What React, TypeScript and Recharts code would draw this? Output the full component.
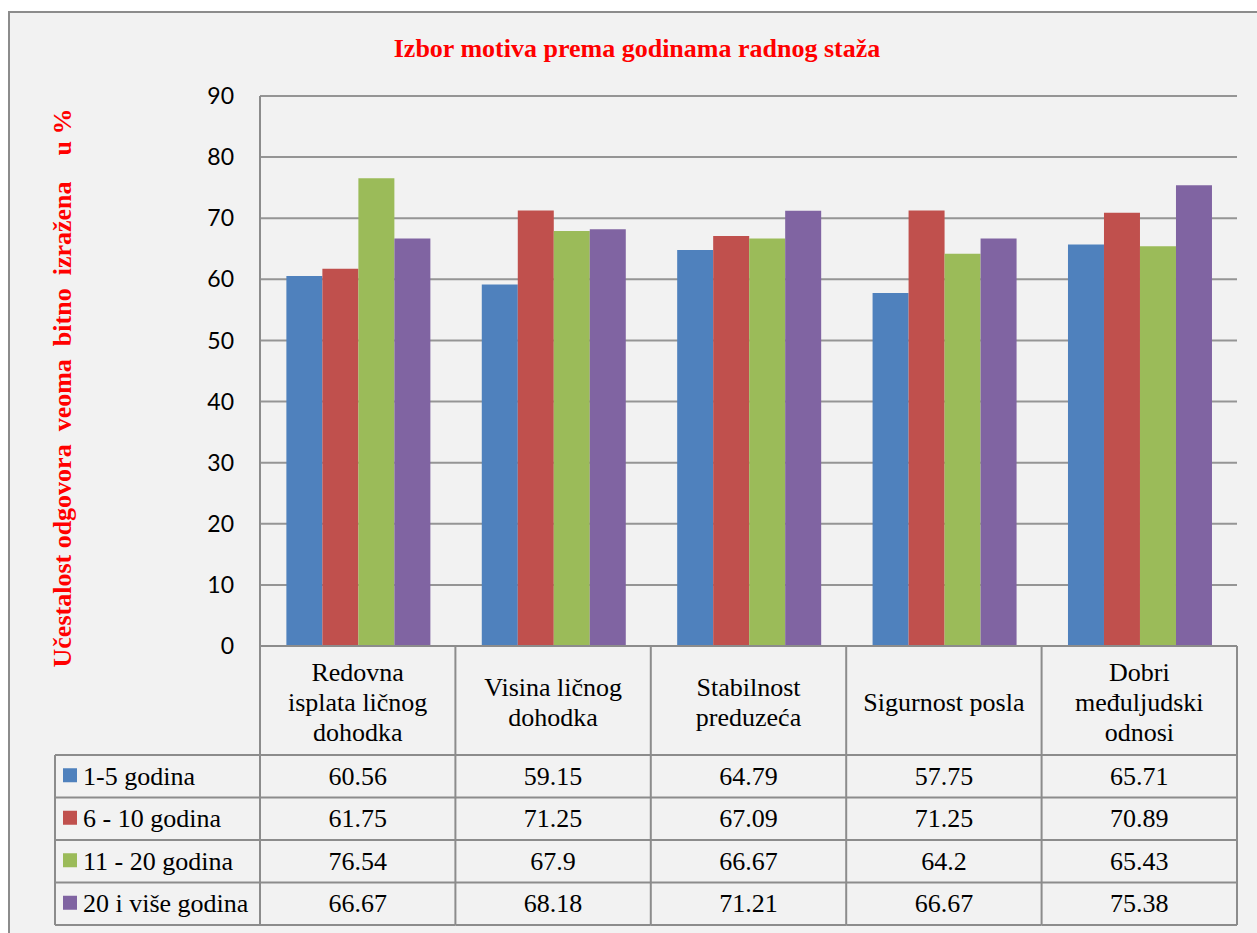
import { Bar, BarChart, CartesianGrid, XAxis, YAxis } from 'recharts';

const categories = [
  'Redovna\nisplata ličnog\ndohodka',
  'Visina ličnog\ndohodka',
  'Stabilnost\npreduzeća',
  'Sigurnost posla',
  'Dobri\nmeđuljudski\nodnosi',
];

const seriesNames = ['1-5 godina', '6 - 10 godina', '11 - 20 godina', '20 i više godina'];
const years1to5 = [60.56, 59.15, 64.79, 57.75, 65.71];
const years6to10 = [61.75, 71.25, 67.09, 71.25, 70.89];
const years11to20 = [76.54, 67.9, 66.67, 64.2, 65.43];
const years20plus = [66.67, 68.18, 71.21, 66.67, 75.38];
const yTicks = [0, 10, 20, 30, 40, 50, 60, 70, 80, 90];

const COLORS = ['#4f81bd', '#c0504d', '#9bbb59', '#8064a2'];
const SERIES = [years1to5, years6to10, years11to20, years20plus];
const KEYS = ['s1', 's2', 's3', 's4'];

const W = 1257;
const H = 933;
const PLOT_LEFT = 260;
const PLOT_RIGHT = 1237;
const BAND = (PLOT_RIGHT - PLOT_LEFT) / categories.length;
const TABLE_LEFT = 55;
const GRID = '#8c8c8c';
const SERIF = '"Liberation Serif", "Times New Roman", serif';

// table row offsets below the x axis line
const HEAD_H = 109;
const ROW_H = 42.5;

const rows = categories.map((name, i) => ({
  name,
  s1: years1to5[i],
  s2: years6to10[i],
  s3: years11to20[i],
  s4: years20plus[i],
}));

function TableTick(props: any) {
  const { x, y, index } = props;
  const left = x - BAND / 2;
  const right = x + BAND / 2;
  const lines = String(categories[index]).split('\n');
  const headMid = y + 56;
  const rowTops = [0, 1, 2, 3, 4].map((r) => y + HEAD_H + r * ROW_H);
  const bottom = rowTops[4];
  const hStart = index === 0 ? TABLE_LEFT : left;

  return (
    <g>
      {lines.map((ln, j) => (
        <text
          key={j}
          x={x}
          y={headMid + (j - (lines.length - 1) / 2) * 30}
          textAnchor="middle"
          dominantBaseline="central"
          fontFamily={SERIF}
          fontSize={26}
          fill="#000"
        >
          {ln}
        </text>
      ))}
      {rowTops.map((ry, r) => (
        <line key={'h' + r} x1={hStart} x2={right} y1={ry} y2={ry} stroke={GRID} strokeWidth={2} />
      ))}
      <line x1={right} x2={right} y1={y} y2={bottom} stroke={GRID} strokeWidth={2} />
      {index === 0 && (
        <>
          <line x1={left} x2={left} y1={y} y2={bottom} stroke={GRID} strokeWidth={2} />
          <line x1={TABLE_LEFT} x2={TABLE_LEFT} y1={rowTops[0]} y2={bottom} stroke={GRID} strokeWidth={2} />
          {seriesNames.map((s, r) => (
            <g key={'lg' + r}>
              <rect x={63} y={rowTops[r] + ROW_H / 2 - 8} width={14} height={14} fill={COLORS[r]} />
              <text
                x={83}
                y={rowTops[r] + ROW_H / 2}
                dominantBaseline="central"
                fontFamily={SERIF}
                fontSize={26}
                fill="#000"
              >
                {s}
              </text>
            </g>
          ))}
        </>
      )}
      {SERIES.map((vals, r) => (
        <text
          key={'v' + r}
          x={x}
          y={rowTops[r] + ROW_H / 2}
          textAnchor="middle"
          dominantBaseline="central"
          fontFamily={SERIF}
          fontSize={26}
          fill="#000"
        >
          {String(vals[index])}
        </text>
      ))}
    </g>
  );
}

function YLabel() {
  const cx = 62;
  const cy = 388;
  return (
    <text
      x={cx}
      y={cy}
      transform={`rotate(-90, ${cx}, ${cy})`}
      textAnchor="middle"
      dominantBaseline="central"
      fontFamily={SERIF}
      fontWeight="bold"
      fontSize={26}
      fill="#ff0000"
      style={{ whiteSpace: 'pre' }}
    >
      {'Učestalost odgovora  veoma  bitno  izražena    u %'}
    </text>
  );
}

export default function App() {
  return (
    <div style={{ position: 'absolute', left: 0, top: 0, width: W, height: H, overflow: 'hidden', background: '#fff' }}>
      <div
        style={{
          position: 'absolute',
          left: 8,
          top: 11,
          width: 1300,
          height: 1000,
          border: `2px solid ${GRID}`,
          background: '#f2f2f2',
        }}
      />
      <div
        style={{
          position: 'absolute',
          left: 0,
          top: 36,
          width: 1274,
          textAlign: 'center',
          fontFamily: SERIF,
          fontWeight: 'bold',
          fontSize: 26,
          lineHeight: '26px',
          color: '#ff0000',
        }}
      >
        Izbor motiva prema godinama radnog staža
      </div>
      <div style={{ position: 'absolute', left: 0, top: 0 }}>
        <BarChart
          width={W}
          height={H}
          data={rows}
          margin={{ top: 96, right: W - PLOT_RIGHT, bottom: 0, left: 0 }}
          barCategoryGap="13.5%"
          barGap={0}
        >
          <CartesianGrid vertical={false} stroke="#959595" strokeWidth={2} />
          <XAxis
            dataKey="name"
            height={287}
            interval={0}
            axisLine={{ stroke: GRID, strokeWidth: 2 }}
            tickLine={false}
            tickSize={0}
            tickMargin={0}
            tick={<TableTick />}
          />
          <YAxis
            width={PLOT_LEFT}
            domain={[0, 90]}
            ticks={yTicks}
            interval={0}
            axisLine={{ stroke: GRID, strokeWidth: 2 }}
            tickLine={false}
            tickSize={0}
            tickMargin={26}
            tick={{ fill: '#000', fontSize: 23, fontFamily: 'Lato, "Open Sans", sans-serif' }}
            label={<YLabel />}
          />
          {KEYS.map((k, i) => (
            <Bar key={k} dataKey={k} name={seriesNames[i]} fill={COLORS[i]} isAnimationActive={false} />
          ))}
        </BarChart>
      </div>
    </div>
  );
}
